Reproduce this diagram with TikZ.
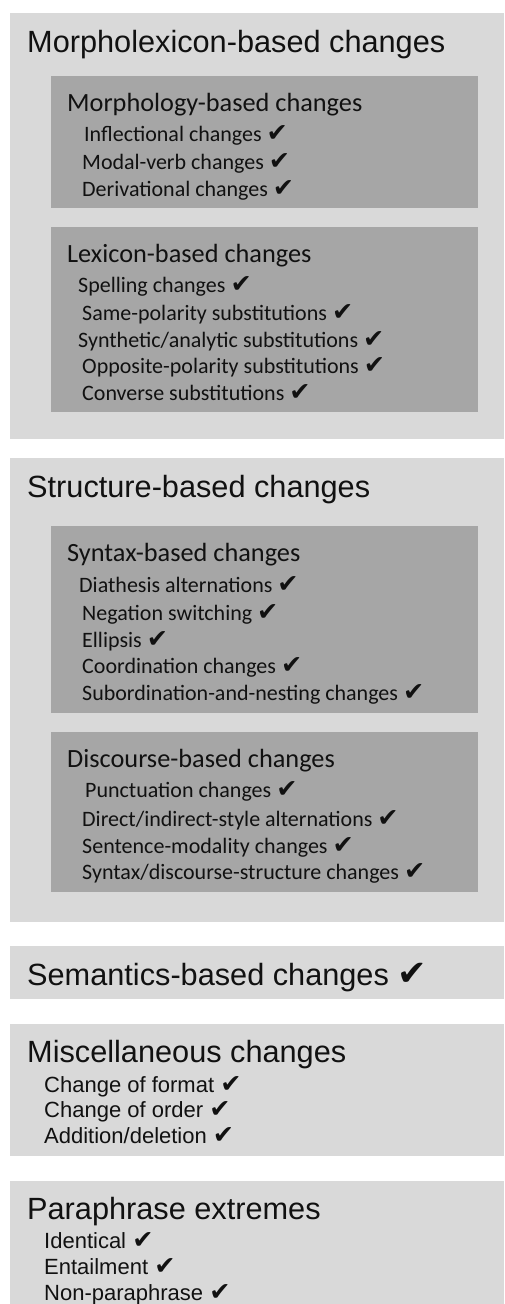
\documentclass[tikz,border=0pt]{standalone}
\usepackage{fontspec}
\newfontfamily\headfont{Liberation Sans}
\newfontfamily\bodyfont{Carlito}
\newfontfamily\tickfont{DejaVu Sans}
\newcommand{\tick}{{\tickfont\scalebox{1.15}{✔}}}
\definecolor{panelgray}{HTML}{D9D9D9}
\definecolor{subgray}{HTML}{A6A6A6}
\definecolor{ink}{HTML}{111111}
\begin{document}
\begin{tikzpicture}[x=1pt,y=-1pt,
  panel/.style={fill=panelgray},
  subpanel/.style={fill=subgray},
  panelhead/.style={anchor=base west,inner sep=0pt,text=ink,font=\headfont\fontsize{30.7}{36}\selectfont},
  panelitem/.style={anchor=base west,inner sep=0pt,text=ink,font=\headfont\fontsize{22}{26}\selectfont},
  subhead/.style={anchor=base west,inner sep=0pt,text=ink,font=\bodyfont\fontsize{26.3}{31}\selectfont},
  subitem/.style={anchor=base west,inner sep=0pt,text=ink,font=\bodyfont\fontsize{22}{26}\selectfont}]
\useasboundingbox[fill=white] (0,0) rectangle (504,1304);

% outer panels
\fill[panel] (10,13) rectangle (504,439);
\fill[panel] (10,458) rectangle (504,922);
\fill[panel] (10,946) rectangle (504,999);
\fill[panel] (10,1024) rectangle (504,1156);
\fill[panel] (10,1181) rectangle (504,1304);

% inner panels
\fill[subpanel] (51,76) rectangle (478,208);
\fill[subpanel] (51,227) rectangle (478,412);
\fill[subpanel] (51,526) rectangle (478,713);
\fill[subpanel] (51,732) rectangle (478,892);

% morpholexicon
\node[panelhead] (morlex) at (27,52) {Morpholexicon-based changes};
\node[subhead] (morph) at (67,111) {Morphology-based changes};
\node[subitem] (infl) at (84,141) {Inflectional changes \tick};
\node[subitem] (modal) at (82,169) {Modal-verb changes \tick};
\node[subitem] (deriv) at (82,196) {Derivational changes \tick};
\node[subhead] (lex) at (67,262) {Lexicon-based changes};
\node[subitem] (spell) at (78,292) {Spelling changes \tick};
\node[subitem] (samepol) at (82,320) {Same-polarity substitutions \tick};
\node[subitem] (synth) at (78,347) {Synthetic/analytic substitutions \tick};
\node[subitem] (opppol) at (82,373) {Opposite-polarity substitutions \tick};
\node[subitem] (conv) at (82,400) {Converse substitutions \tick};

% structure
\node[panelhead] (struct) at (27,497) {Structure-based changes};
\node[subhead] (syn) at (67,561) {Syntax-based changes};
\node[subitem] (diath) at (79,592) {Diathesis alternations \tick};
\node[subitem] (neg) at (82,620) {Negation switching \tick};
\node[subitem] (ellip) at (82,647) {Ellipsis \tick};
\node[subitem] (coord) at (82,673) {Coordination changes \tick};
\node[subitem] (subord) at (82,700) {Subordination-and-nesting changes \tick};
\node[subhead] (disc) at (67,767) {Discourse-based changes};
\node[subitem] (punct) at (85,797) {Punctuation changes \tick};
\node[subitem] (direct) at (82,826) {Direct/indirect-style alternations \tick};
\node[subitem] (sentmod) at (82,853) {Sentence-modality changes \tick};
\node[subitem] (synstr) at (82,879) {Syntax/discourse-structure changes \tick};

% semantics
\node[panelhead] (sem) at (27,985) {Semantics-based changes \tick};

% miscellaneous
\node[panelhead] (misc) at (27,1062) {Miscellaneous changes};
\node[panelitem] (format) at (44,1092) {Change of format \tick};
\node[panelitem] (order) at (44,1117) {Change of order \tick};
\node[panelitem] (adddel) at (44,1143) {Addition/deletion \tick};

% extremes
\node[panelhead] (extr) at (27,1219) {Paraphrase extremes};
\node[panelitem] (ident) at (44,1248) {Identical \tick};
\node[panelitem] (entail) at (44,1274) {Entailment \tick};
\node[panelitem] (nonpara) at (44,1300) {Non-paraphrase \tick};
\end{tikzpicture}
\end{document}
